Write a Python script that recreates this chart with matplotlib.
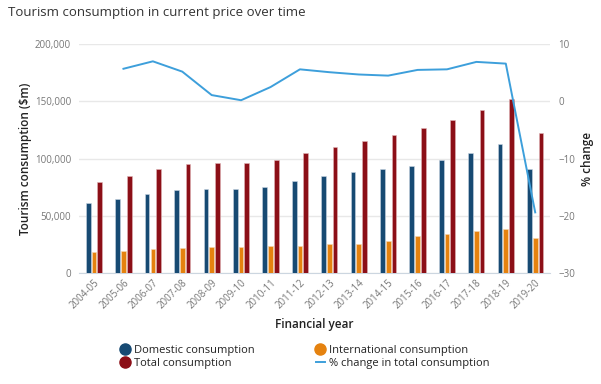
import numpy as np
import matplotlib
matplotlib.use('Agg')
from matplotlib import pyplot as plt
from matplotlib.lines import Line2D

years = ['2004-05', '2005-06', '2006-07', '2007-08', '2008-09', '2009-10', '2010-11', '2011-12',
         '2012-13', '2013-14', '2014-15', '2015-16', '2016-17', '2017-18', '2018-19', '2019-20']
domestic = [61000, 64600, 69000, 72200, 73000, 73400, 74800, 80300,
            84400, 87900, 91100, 93400, 98700, 104800, 112700, 91100]
international = [18100, 18900, 20700, 21800, 22400, 22400, 23300, 23600,
                  25000, 25600, 28000, 32000, 33800, 36700, 38700, 30600]
total = [79800, 84700, 90500, 94900, 96100, 96100, 98700, 104500,
         109800, 115000, 120200, 126400, 133600, 142900, 152200, 122500]
pct_change = [np.nan, 5.7, 7.0, 5.2, 1.1, 0.2, 2.5, 5.6,
              5.1, 4.7, 4.5, 5.5, 5.6, 6.9, 6.6, -19.4]

c_dom = '#174a73'
c_int = '#e5820f'
c_tot = '#8c0f17'
c_line = '#3d9fdb'
grey = '#777777'
font = ['Open Sans', 'DejaVu Sans']
plt.rcParams['font.family'] = font

fig = plt.figure(figsize=(6.01, 3.84), dpi=100)
ax = fig.add_axes([0.132, 0.289, 0.783, 0.596])
ax2 = ax.twinx()

x = np.arange(len(years))
w = 0.16
off = 0.195
ax.bar(x - off, domestic, w, color=c_dom, edgecolor='#c9d6e3', linewidth=0.4, zorder=3)
ax.bar(x, international, w, color=c_int, edgecolor='#f6d9b5', linewidth=0.4, zorder=3)
ax.bar(x + off, total, w, color=c_tot, edgecolor='#e0b5b8', linewidth=0.4, zorder=3)
ax2.plot(x, pct_change, color=c_line, lw=1.4, zorder=4)

ax.set_xlim(-0.5, 15.5)
ax.set_ylim(0, 200000)
ax2.set_ylim(-30, 10)
ax.set_yticks(np.arange(0, 200001, 50000))
ax.set_yticklabels([f'{v:,}' for v in range(0, 200001, 50000)])
ax2.set_yticks([-30, -20, -10, 0, 10])
ax.grid(axis='y', color='#e8e8e8', lw=1, zorder=0)
ax.set_axisbelow(True)

ax.set_xticks(x)
ax.set_xticklabels(years, rotation=45, ha='right', rotation_mode='anchor')
for a in (ax, ax2):
    for s in a.spines.values():
        s.set_visible(False)
    a.tick_params(length=0, labelsize=7, labelcolor=grey, pad=6)
ax.tick_params(axis='x', pad=3)
ax.spines['bottom'].set_visible(True)
ax.spines['bottom'].set_color('#ccd6e0')

ax.set_ylabel('Tourism consumption ($m)', fontsize=8.5, fontweight='semibold', color='#222222', labelpad=2)
ax2.set_ylabel('% change', fontsize=8.5, fontweight='semibold', color='#222222', labelpad=4)
ax.set_xlabel('Financial year', fontsize=8.5, fontweight='semibold', color='#222222', labelpad=5)

fig.text(0.013, 0.967, 'Tourism consumption in current price over time', fontsize=9.5,
         color='#333333', va='center', ha='left')

handles = [
    Line2D([], [], marker='o', ls='none', color=c_dom, markersize=8),
    Line2D([], [], marker='o', ls='none', color=c_tot, markersize=8),
    Line2D([], [], marker='o', ls='none', color=c_int, markersize=8),
    Line2D([], [], color=c_line, lw=1.4),
]
labels = ['Domestic consumption', 'Total consumption',
          'International consumption', '% change in total consumption']
fig.legend(handles, labels, ncol=2, loc='center', bbox_to_anchor=(0.508, 0.07), frameon=False,
           fontsize=8, handlelength=0.8, handletextpad=0.4, columnspacing=5.5, labelspacing=0.15,
           labelcolor='#222222')

fig.savefig('out.png', dpi=100)
